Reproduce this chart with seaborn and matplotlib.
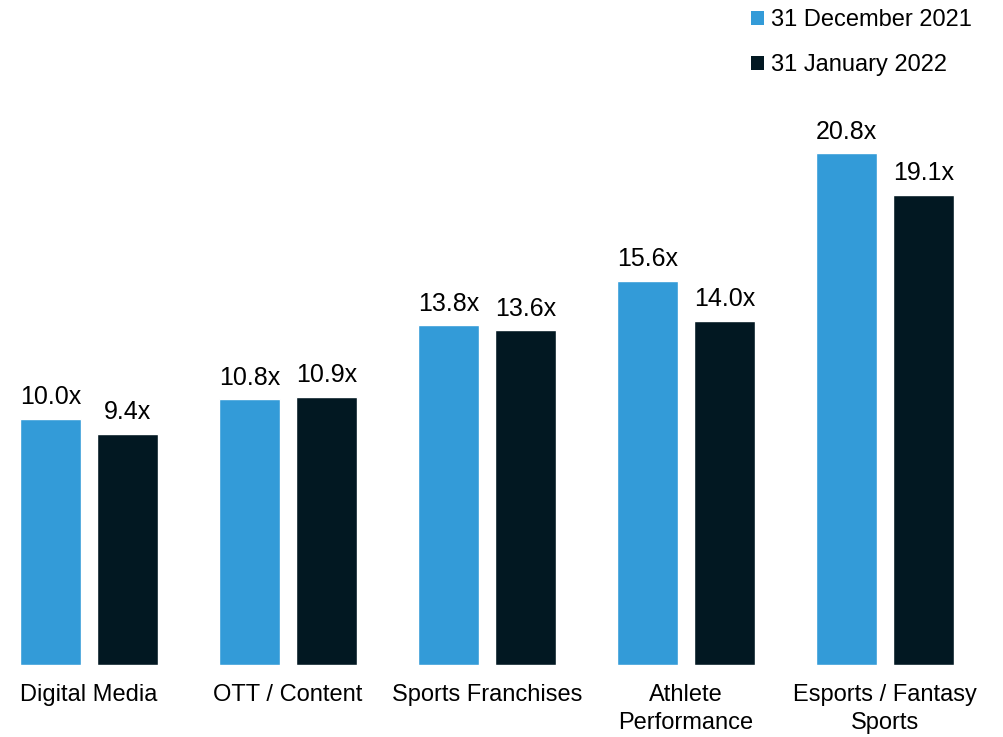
import matplotlib
matplotlib.use('Agg')
import matplotlib.pyplot as plt
import seaborn as sns
import pandas as pd
from matplotlib.patches import Patch

categories = ['Digital Media', 'OTT / Content', 'Sports Franchises',
              'Athlete\nPerformance', 'Esports / Fantasy\nSports']
series = ['31 December 2021', '31 January 2022']
dec_2021 = [10.0, 10.8, 13.8, 15.6, 20.8]
jan_2022 = [9.4, 10.9, 13.6, 14.0, 19.1]

colors = ['#339BD8', '#021822']

df = pd.DataFrame({
    'category': categories * 2,
    'period': [series[0]] * 5 + [series[1]] * 5,
    'value': dec_2021 + jan_2022,
})

sns.set_style('white')
plt.rcParams['font.family'] = ['Liberation Sans', 'DejaVu Sans']

fig = plt.figure(figsize=(10.04, 7.37), dpi=100)
ax = fig.add_axes([0, 0.0977, 1, 0.7938])

sns.barplot(data=df, x='category', y='value', hue='period', palette=colors,
            width=0.774, gap=0.215, saturation=1, legend=False, ax=ax)

for cont in ax.containers:
    for bar in cont:
        h = bar.get_height()
        ax.annotate(f'{h:.1f}x', (bar.get_x() + bar.get_width() / 2, h),
                    xytext=(0, 7), textcoords='offset points',
                    ha='center', va='bottom', fontsize=18, color='#000000')

ax.set_xlim(-0.447, 4.598)
ax.set_ylim(0, 23.78)
ax.set_xlabel('')
ax.set_ylabel('')
ax.set_yticks([])
ax.tick_params(axis='x', length=0, pad=14, labelsize=17, colors='#000000')
for lbl in ax.get_xticklabels():
    lbl.set_linespacing(1.35)
for s in ax.spines.values():
    s.set_visible(False)

handles = [Patch(facecolor=c, edgecolor='none') for c in colors]
fig.legend(handles, series, loc='upper right', bbox_to_anchor=(0.977, 1.0),
           frameon=False, fontsize=17, labelcolor='#000000',
           handlelength=0.55, handleheight=0.55,
           handletextpad=0.3, labelspacing=0.97, borderaxespad=0.0)

fig.savefig('out.png', dpi=100)
